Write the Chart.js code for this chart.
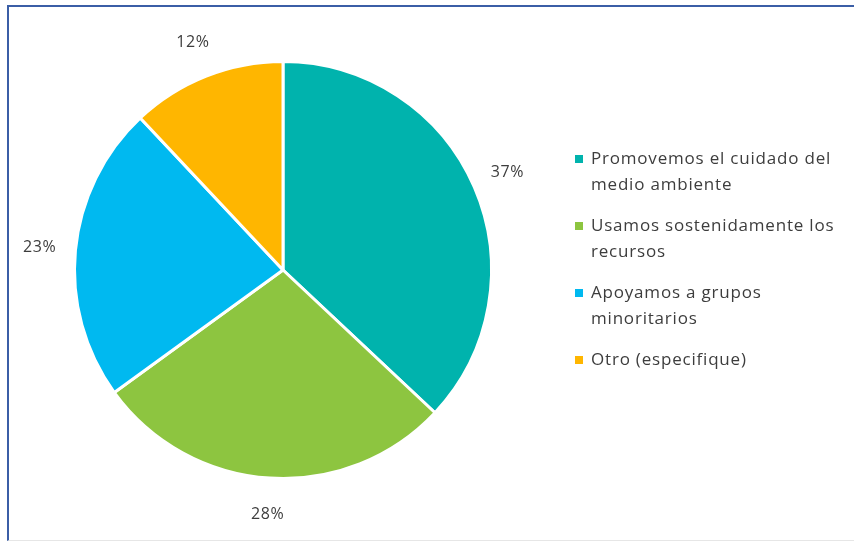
<!DOCTYPE html>
<html>
<head>
<meta charset="utf-8">
<script src="https://cdn.jsdelivr.net/npm/chart.js@4"></script>
<style>
  html, body { margin: 0; padding: 0; background: #fff; }
  #wrap { position: relative; width: 854px; height: 541px; }
  #frame { position: absolute; left: 7px; top: 5px; right: -4px; bottom: 0; border-left: 2px solid #3b5ea6; border-top: 2px solid #3b5ea6; border-bottom: 1px solid #e6e6e6; }
  canvas { position: absolute; left: 0; top: 0; }
</style>
</head>
<body>
<div id="wrap">
  <div id="frame"></div>
  <canvas id="myChart" width="854" height="541"></canvas>
</div>
<script>
const categories = [
  ["Promovemos el cuidado del", "medio ambiente"],
  ["Usamos sostenidamente los", "recursos"],
  ["Apoyamos a grupos", "minoritarios"],
  ["Otro (especifique)"]
];
const percents = [37, 28, 23, 12];
const sliceColors = ["#00b3ad", "#8dc540", "#00b9f0", "#ffb600"];

const textColor = "#3d3d3d";
const fontFamily = "'Open Sans', Lato, sans-serif";

// percent labels outside each slice
const outsideLabels = {
  id: "outsideLabels",
  afterDatasetsDraw(chart) {
    const c = chart.ctx;
    const meta = chart.getDatasetMeta(0);
    c.save();
    c.font = "16px " + fontFamily;
    c.letterSpacing = "0.6px";
    c.fillStyle = textColor;
    c.textAlign = "center";
    c.textBaseline = "middle";
    meta.data.forEach((arc, i) => {
      const mid = (arc.startAngle + arc.endAngle) / 2;
      const r = arc.outerRadius + 36;
      c.fillText(percents[i] + "%", arc.x + Math.cos(mid) * r, arc.y + Math.sin(mid) * r);
    });
    c.restore();
  }
};

// legend on the right with wrapped lines
const sideLegend = {
  id: "sideLegend",
  afterDraw(chart) {
    const c = chart.ctx;
    const x = 591, lineH = 26, gap = 41;
    let y = 159;
    c.save();
    c.font = "17px " + fontFamily;
    c.letterSpacing = "0.8px";
    c.textBaseline = "middle";
    categories.forEach((lines, i) => {
      c.fillStyle = sliceColors[i];
      c.fillRect(x - 16, y - 4, 8, 8);
      c.fillStyle = textColor;
      lines.forEach((t, k) => c.fillText(t, x, y + k * lineH));
      y += (lines.length - 1) * lineH + gap;
    });
    c.restore();
  }
};

var ctx = document.getElementById('myChart').getContext('2d');
var myChart = new Chart(ctx, {
  type: 'pie',
  data: {
    labels: categories,
    datasets: [{
      data: percents,
      backgroundColor: sliceColors,
      borderColor: '#ffffff',
      borderWidth: 3
    }]
  },
  options: {
    responsive: false,
    animation: false,
    layout: { padding: { left: 73, top: 60, right: 361, bottom: 61 } },
    plugins: {
      legend: { display: false },
      tooltip: { enabled: false }
    }
  },
  plugins: [outsideLabels, sideLegend]
});
</script>
</body>
</html>
